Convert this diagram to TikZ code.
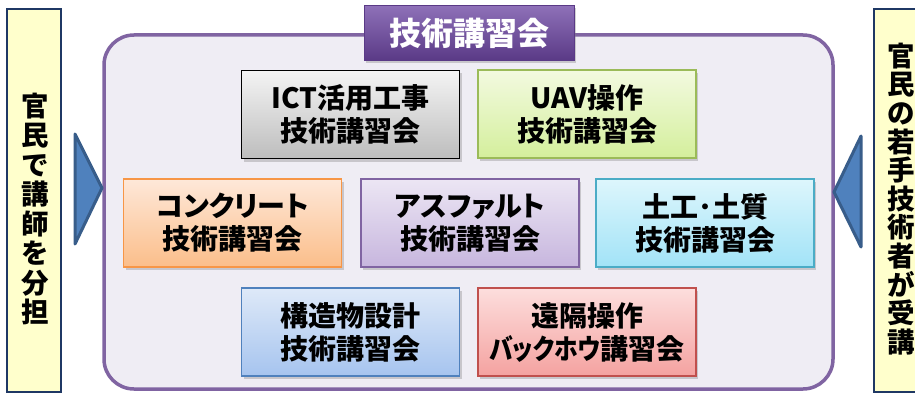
\documentclass[tikz,border=0pt]{standalone}
\usepackage{fontspec}
\setmainfont{Noto Sans CJK JP}[RawFeature=+palt]
\newfontfamily\fw{Noto Sans CJK JP}
\usetikzlibrary{shadows}
\definecolor{navy}{HTML}{1F3864}
\definecolor{sideyellow}{HTML}{FFFFCC}
\definecolor{mainfill}{HTML}{EFEDF4}
\definecolor{mainborder}{HTML}{8064A2}
\definecolor{arrowfill}{HTML}{4F81BD}
\definecolor{arrowborder}{HTML}{385D8A}
\definecolor{grayT}{HTML}{F4F4F4}\definecolor{grayB}{HTML}{BDBDBD}
\definecolor{greenD}{HTML}{9BBB59}\definecolor{greenT}{HTML}{F3FAE0}\definecolor{greenB}{HTML}{D4EF9C}
\definecolor{orangeD}{HTML}{F79646}\definecolor{orangeT}{HTML}{FEE8D9}\definecolor{orangeB}{HTML}{FBBE8A}
\definecolor{purpleD}{HTML}{8064A2}\definecolor{purpleT}{HTML}{ECE6F4}\definecolor{purpleB}{HTML}{C7B6DE}
\definecolor{cyanD}{HTML}{4BACC6}\definecolor{cyanT}{HTML}{DDF6FC}\definecolor{cyanB}{HTML}{A2E3F7}
\definecolor{blueD}{HTML}{4F81BD}\definecolor{blueT}{HTML}{DEE9F8}\definecolor{blueB}{HTML}{A6C4EF}
\definecolor{redD}{HTML}{C0504D}\definecolor{redT}{HTML}{FDDEDD}\definecolor{redB}{HTML}{F4A2A0}
\definecolor{titleT}{HTML}{8E70B8}\definecolor{titleB}{HTML}{5A3A86}
\tikzset{
  x=1pt,y=-1pt,
  jp/.style={font=\fontsize{28}{33}\selectfont\bfseries, align=center},
  course/.style={jp, draw, line width=1.3pt, minimum width=218pt, minimum height=88pt,
     inner sep=0pt, drop shadow={opacity=0.35, shadow xshift=2pt, shadow yshift=-3pt}},
  sidebox/.style={draw=navy, line width=1.5pt, fill=sideyellow},
  sidetext/.style={font=\fw\fontsize{27.5}{29.5}\selectfont\bfseries, align=center, inner sep=0pt},
  arrowtri/.style={fill=arrowfill, draw=arrowborder, line width=3pt, line join=round},
}
\begin{document}
\begin{tikzpicture}
\useasboundingbox (0,0) rectangle (915,393);
\clip (0,0) rectangle (915,393);
\fill[white] (0,0) rectangle (915,393);

% side boxes
\draw[sidebox] (7,9) rectangle (61,392);
\node[sidetext] (lefttext) at (35,209) {官\\民\\で\\講\\師\\を\\分\\担};
\draw[sidebox] (874,9) rectangle (930,392);
\node[sidetext, font=\fw\fontsize{27.5}{28.6}\selectfont\bfseries] (righttext) at (901,199) {官\\民\\の\\若\\手\\技\\術\\者\\が\\受\\講};

% main frame
\draw[draw=mainborder, fill=mainfill, line width=3.5pt, rounded corners=30pt] (104,35) rectangle (833,389);

% arrows
\draw[arrowtri] (75,134) -- (102,188) -- (75,244) -- cycle;
\draw[arrowtri] (861,136) -- (834,192) -- (861,247) -- cycle;

% title
\node[font=\fontsize{32}{32}\selectfont\bfseries, text=white, minimum width=210pt, minimum height=55pt,
  inner sep=0pt, top color=titleT, bottom color=titleB,
  draw=titleB, line width=0.8pt,
  drop shadow={opacity=0.35, shadow xshift=2pt, shadow yshift=-3pt}] (title) at (469,33) {技術講習会};

% courses
\node[course, draw=black, top color=grayT, bottom color=grayB] (ict) at (350.5,114.5) {ICT活用工事\\技術講習会};
\node[course, draw=greenD, top color=greenT, bottom color=greenB] (uav) at (587,114) {UAV操作\\技術講習会};
\node[course, draw=orangeD, top color=orangeT, bottom color=orangeB] (conc) at (232.5,223) {コンクリート\\技術講習会};
\node[course, draw=purpleD, top color=purpleT, bottom color=purpleB] (asph) at (470,223) {アスファルト\\技術講習会};
\node[course, draw=cyanD, top color=cyanT, bottom color=cyanB] (doko) at (705,223) {土工･土質\\技術講習会};
\node[course, draw=blueD, top color=blueT, bottom color=blueB] (kozo) at (350.5,332) {構造物設計\\技術講習会};
\node[course, draw=redD, top color=redT, bottom color=redB] (enkaku) at (587,332) {遠隔操作\\\scalebox{0.85}[1]{バックホウ}講習会};
\end{tikzpicture}
\end{document}
